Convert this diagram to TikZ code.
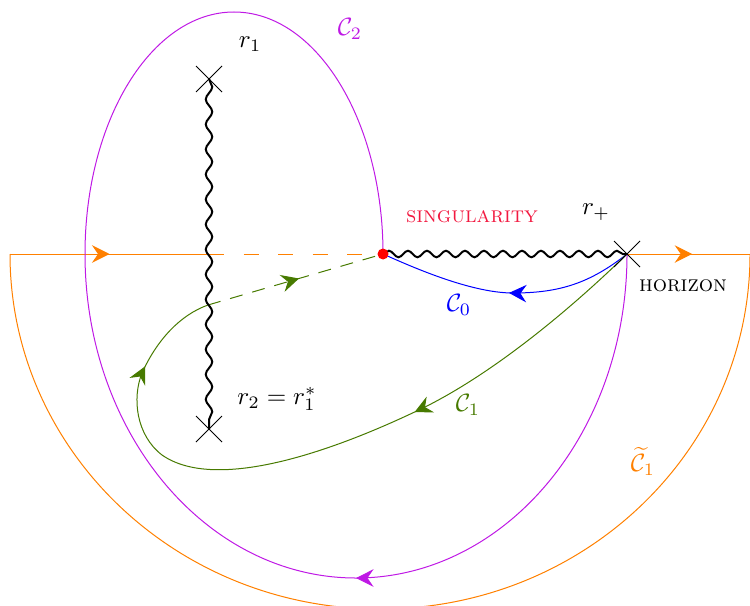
\documentclass[tikz,border=0pt]{standalone}
\usetikzlibrary{decorations.pathmorphing,decorations.markings,arrows.meta,shapes.misc}
\definecolor{cpurple}{rgb}{0.75,0.1,0.9}
\definecolor{cgreen}{rgb}{0.28,0.48,0}
\definecolor{corange}{rgb}{1,0.5,0}
\definecolor{cred}{rgb}{0.95,0.1,0.25}
\begin{document}
\begin{tikzpicture}[x=0.4pt,y=-0.4pt,
  midarrow/.style={postaction={decorate},decoration={markings,mark=at position #1 with {\arrow{Stealth[length=7pt,width=7pt,inset=2.4pt]}}}},
  crossmark/.style={cross out,draw=black,thin,minimum size=10pt,inner sep=0pt},
  wavy/.style={thick,decorate,decoration={snake,amplitude=1.3pt,segment length=#1}},
  lbl/.style={inner sep=0pt}
]
\useasboundingbox (0,0) rectangle (750,605);

% key points
\coordinate (hor) at (627,254);
\coordinate (sing) at (383,254);
\coordinate (r1) at (209,79);
\coordinate (r2) at (209,429);
\coordinate (ol) at (10,254);
\coordinate (or) at (750,254);
\coordinate (cut) at (209,254);
\coordinate (pl) at (85,254);
\coordinate (gx) at (208,305);

% orange contour
\draw[corange, midarrow=0.5] (ol) -- (cut);
\draw[corange, dash pattern=on 6pt off 7.8pt] (cut) -- (sing);
\draw[corange, midarrow=0.53] (hor) -- (or);
\draw[corange] (or) arc[start angle=0,end angle=180,x radius=370,y radius=355];

% purple contour C2
\draw[cpurple, midarrow=0.5] (hor) arc[start angle=0,end angle=180,x radius=271,y radius=324];
\draw[cpurple] (pl) arc[start angle=180,end angle=360,x radius=149,y radius=242];

% blue contour C0
\draw[blue, midarrow=0.49] (hor) .. controls (590,283) and (560,293) .. (513,293)
   .. controls (470,293) and (410,266) .. (sing);

% green contour C1
\draw[cgreen, postaction={decorate}, decoration={markings,
    mark=at position 0.37 with {\arrow{Stealth[length=7pt,width=7pt,inset=2.4pt]}},
    mark=at position 0.875 with {\arrow{Stealth[length=7pt,width=7pt,inset=2.4pt]}}}]
  (hor) .. controls (580,300) and (500,370) .. (423,408)
   .. controls (330,453) and (215,492) .. (162,455)
   .. controls (136,435) and (132,398) .. (142,373)
   .. controls (157,340) and (180,315) .. (gx);
\draw[cgreen, dash pattern=on 5.2pt off 4pt, midarrow=0.52] (gx) -- (sing);

% branch cuts
\draw[wavy=10pt] (r1) -- (r2);
\draw[wavy=7.6pt] (sing) -- (hor);

% crosses and singular point
\node[crossmark] (x1) at (r1) {};
\node[crossmark] (x2) at (r2) {};
\node[crossmark] (xh) at (hor) {};
\node[circle, fill=red, inner sep=0pt, minimum size=4.4pt] (sdot) at (sing) {};

% labels
\node[lbl] (lr1) at (250,44) {$r_1$};
\node[lbl, text=cpurple] (lc2) at (350,29) {$\mathcal{C}_2$};
\node[lbl, text=cred, font=\small] (lsing) at (472,217) {\textsc{singularity}};
\node[lbl] (lrp) at (596,212) {$r_+$};
\node[lbl, font=\small] (lhor) at (683,286) {\textsc{horizon}};
\node[lbl, text=blue] (lc0) at (459,305) {$\mathcal{C}_0$};
\node[lbl, text=cgreen] (lc1) at (468,405) {$\mathcal{C}_1$};
\node[lbl] (lr2) at (277,399) {$r_2=r_1^*$};
\node[lbl, text=corange] (lct) at (643,461) {$\widetilde{\mathcal{C}}_1$};
\end{tikzpicture}
\end{document}
